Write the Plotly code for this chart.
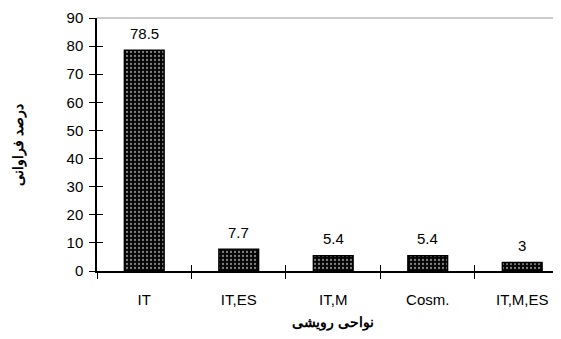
import plotly.graph_objects as go

categories = ["IT", "IT,ES", "IT,M", "Cosm.", "IT,M,ES"]
values = [78.5, 7.7, 5.4, 5.4, 3]
value_labels = ["78.5", "7.7", "5.4", "5.4", "3"]
y_ticks = [0, 10, 20, 30, 40, 50, 60, 70, 80, 90]
x_title = "نواحی رویشی"
y_title = "درصد فراوانی"

font_family = "Liberation Sans, Arial, sans-serif"
x_range = [-0.5, 4.495]

fig = go.Figure()
fig.add_trace(go.Bar(
    x=categories, y=values,
    width=0.42,
    marker=dict(
        color="#050505",
        line=dict(color="black", width=1.5),
        pattern=dict(shape=".", fgcolor="white", bgcolor="#050505", size=4, solidity=0.25, fillmode="overlay"),
    ),
    showlegend=False,
))
# invisible trace for overlay axis
fig.add_trace(go.Scatter(x=categories, y=values, xaxis="x2", yaxis="y2",
                         mode="markers", marker=dict(opacity=0), showlegend=False, hoverinfo="skip"))

for c, v, t in zip(categories, values, value_labels):
    fig.add_annotation(x=c, y=v, text=t, showarrow=False, yshift=17,
                       font=dict(family=font_family, size=15, color="black"))

fig.add_annotation(xref="paper", yref="paper", x=0, y=0.5, xshift=-79, textangle=-90,
                   xanchor="center", yanchor="middle",
                   text="<b>" + y_title + "</b>", showarrow=False,
                   font=dict(family=font_family, size=14, color="black"))
fig.add_annotation(xref="x", yref="paper", x=2, y=0, yshift=-51,
                   xanchor="center", yanchor="middle",
                   text="<b>" + x_title + "</b>", showarrow=False,
                   font=dict(family=font_family, size=14, color="black"))

fig.update_layout(
    width=561, height=339,
    margin=dict(l=89, r=0, t=10, b=76),
    paper_bgcolor="white", plot_bgcolor="white",
    font=dict(family=font_family, size=15, color="black"),
    xaxis=dict(
        type="category", categoryorder="array", categoryarray=categories,
        range=x_range, tickson="boundaries", ticks="outside", ticklen=6,
        tickwidth=1, tickcolor="black", showline=True, linecolor="black", linewidth=1.5,
        showgrid=False, zeroline=False, automargin=False,
        tickfont=dict(size=15), ticklabelstandoff=14,
    ),
    xaxis2=dict(
        type="category", categoryorder="array", categoryarray=categories,
        range=x_range, tickson="boundaries", ticks="inside", ticklen=6,
        tickwidth=1, tickcolor="black", showticklabels=False, showgrid=False,
        zeroline=False, overlaying="x", matches="x", automargin=False,
    ),
    yaxis=dict(
        range=[0, 90], tickvals=y_ticks, ticks="outside", ticklen=6, tickwidth=1,
        tickcolor="black", showline=True, linecolor="black", linewidth=1.5,
        showgrid=False, zeroline=False, tickfont=dict(size=15), automargin=False,
        ticklabelstandoff=3,
    ),
    yaxis2=dict(
        range=[0, 90], tickvals=y_ticks, ticks="inside", ticklen=6, tickwidth=1,
        tickcolor="black", showticklabels=False, showgrid=False, zeroline=False,
        overlaying="y", matches="y", automargin=False,
    ),
    shapes=[dict(type="line", xref="paper", yref="paper", x0=0, x1=1, y0=1, y1=1,
                 line=dict(color="#999999", width=1))],
)

fig.write_html("out.html")
